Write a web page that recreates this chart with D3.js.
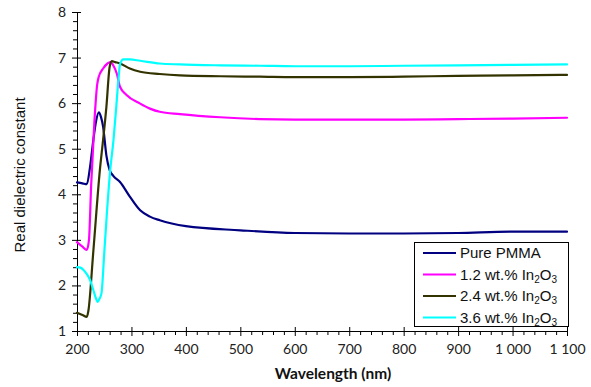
<!DOCTYPE html>
<html>
<head>
<meta charset="utf-8">
<script src="https://cdn.jsdelivr.net/npm/d3@7"></script>
<style>
  html, body { margin: 0; padding: 0; background: #fff; }
  svg { display: block; }
  .arial { font-family: Arial, "Liberation Sans", Arimo, sans-serif; }
  .calib { font-family: Lato, "Open Sans", sans-serif; }
</style>
</head>
<body>
<svg id="chart" width="591" height="387"></svg>
<script>
// ---- Data ----
const wlPMMA = [200, 210, 218, 224, 230, 235, 240, 244, 248, 254, 260, 267, 279, 297, 316, 334, 352, 400, 500, 600, 700, 800, 900, 1000, 1100];
const valPMMA = [4.26, 4.24, 4.22, 4.6, 5.19, 5.6, 5.80, 5.7, 5.48, 4.85, 4.53, 4.40, 4.27, 3.95, 3.65, 3.51, 3.43, 3.30, 3.21, 3.15, 3.14, 3.14, 3.15, 3.18, 3.18];

const wl12 = [200, 210, 218, 222, 226, 232, 237, 240, 248, 256, 261, 267, 273, 279, 291, 316, 334, 352, 389, 463, 536, 600, 700, 800, 900, 1000, 1100];
const val12 = [2.95, 2.85, 2.78, 3.0, 4.2, 5.6, 6.4, 6.58, 6.76, 6.87, 6.90, 6.82, 6.65, 6.36, 6.18, 5.99, 5.88, 5.81, 5.76, 5.69, 5.65, 5.64, 5.64, 5.64, 5.65, 5.66, 5.68];

const wl24 = [200, 210, 218, 221, 230, 242, 248, 254, 260, 264, 270, 279, 297, 316, 352, 389, 463, 536, 600, 700, 800, 900, 1000, 1100];
const val24 = [1.40, 1.35, 1.31, 1.45, 2.75, 4.53, 5.2, 5.92, 6.80, 6.92, 6.90, 6.87, 6.76, 6.69, 6.64, 6.61, 6.59, 6.58, 6.57, 6.57, 6.58, 6.60, 6.61, 6.62];

const wl36 = [200, 206, 212, 218, 224, 230, 236, 238, 241, 245, 250, 255, 261, 267, 272, 276, 279, 285, 297, 316, 352, 389, 463, 536, 600, 700, 800, 900, 1000, 1100];
const val36 = [2.40, 2.39, 2.34, 2.25, 2.12, 1.9, 1.68, 1.64, 1.70, 1.83, 2.7, 3.6, 4.53, 5.19, 5.9, 6.50, 6.85, 6.96, 6.96, 6.93, 6.87, 6.85, 6.83, 6.82, 6.81, 6.81, 6.82, 6.83, 6.84, 6.85];

const seriesNames = ["Pure PMMA", "1.2 wt.% In2O3", "2.4 wt.% In2O3", "3.6 wt.% In2O3"];
const seriesColors = ["#000080", "#FF00FF", "#333300", "#00FFFF"];

const xTicks = [200, 300, 400, 500, 600, 700, 800, 900, 1000, 1100];
const yTicks = [1, 2, 3, 4, 5, 6, 7, 8];

const xTitle = "Wavelength (nm)";
const yTitle = "Real dielectric constant";

// ---- Layout ----
const svg = d3.select("#chart");
const mLeft = 77, mRight = 567, mTop = 12, mBottom = 331;

const x = d3.scaleLinear().domain([200, 1100]).range([mLeft, mRight]);
const y = d3.scaleLinear().domain([1, 8]).range([mBottom, mTop]);

const axisColor = "#000";

// Minor ticks
const xMinor = d3.range(200, 1100.1, 20).filter(v => xTicks.indexOf(v) < 0);
const yMinor = d3.range(1, 8.01, 0.2).map(v => +v.toFixed(1)).filter(v => yTicks.indexOf(v) < 0);

const g = svg.append("g");

// Y axis
const yAxis = g.append("g").attr("transform", `translate(${mLeft},0)`)
  .call(d3.axisLeft(y).tickValues(yTicks).tickSize(5).tickPadding(6).tickFormat(d3.format("d")));
yAxis.attr("font-family", null).attr("font-size", null);
yAxis.select(".domain").attr("stroke", axisColor).attr("stroke-width", 1);
yAxis.selectAll(".tick line").attr("stroke", axisColor).attr("x2", 4).attr("x1", -5);
yAxis.selectAll(".tick text").attr("class", "calib").style("font-size", "14px").attr("fill", "#222");
g.append("g").attr("transform", `translate(${mLeft},0)`)
  .call(d3.axisLeft(y).tickValues(yMinor).tickSize(4).tickFormat(""))
  .call(s => s.select(".domain").remove())
  .selectAll(".tick line").attr("stroke", axisColor);

// X axis
const xAxis = g.append("g").attr("transform", `translate(0,${mBottom})`)
  .call(d3.axisBottom(x).tickValues(xTicks).tickSize(5).tickPadding(8)
    .tickFormat(d => d >= 1000 ? d3.format(",")(d).replace(/,/g, " ") : String(d)));
xAxis.attr("font-family", null).attr("font-size", null);
xAxis.select(".domain").attr("stroke", axisColor).attr("stroke-width", 1);
xAxis.selectAll(".tick line").attr("stroke", axisColor).attr("y1", -4).attr("y2", 5);
xAxis.selectAll(".tick text").attr("class", "calib").style("font-size", "14px").attr("fill", "#222");
g.append("g").attr("transform", `translate(0,${mBottom})`)
  .call(d3.axisBottom(x).tickValues(xMinor).tickSize(4).tickFormat(""))
  .call(s => s.select(".domain").remove())
  .selectAll(".tick line").attr("stroke", axisColor);

// Titles
svg.append("text").attr("class", "calib").attr("x", 333).attr("y", 379).attr("text-anchor", "middle")
  .attr("font-weight", "bold").style("font-size", "15.5px").attr("fill", "#111")
  .text(xTitle);
svg.append("text").attr("class", "arial").attr("transform", "translate(25,175) rotate(-90)").attr("text-anchor", "middle")
  .style("font-size", "15px").attr("fill", "#111")
  .text(yTitle);

// Lines
const series = [
  { wl: wlPMMA, v: valPMMA },
  { wl: wl12, v: val12 },
  { wl: wl24, v: val24 },
  { wl: wl36, v: val36 }
];
const line = d3.line().x(d => x(d[0])).y(d => y(d[1])).curve(d3.curveMonotoneX);
series.forEach((s, i) => {
  const pts = s.wl.map((w, k) => [w, s.v[k]]);
  svg.append("path").datum(pts).attr("d", line)
    .attr("fill", "none").attr("stroke", seriesColors[i]).attr("stroke-width", 2.2)
    .attr("stroke-linejoin", "round").attr("stroke-linecap", "round");
});

// Legend
const lg = svg.append("g");
lg.append("rect").attr("x", 414.5).attr("y", 242.5).attr("width", 154).attr("height", 84)
  .attr("fill", "#fff").attr("stroke", "#000").attr("stroke-width", 1);
const rowY = [253, 274.5, 296, 317.5];
seriesNames.forEach((name, i) => {
  lg.append("line").attr("x1", 423).attr("x2", 456).attr("y1", rowY[i]).attr("y2", rowY[i])
    .attr("stroke", seriesColors[i]).attr("stroke-width", 2.2);
  const t = lg.append("text").attr("class", "arial").attr("x", 460).attr("y", rowY[i] + 5.3)
    .style("font-size", "15px").attr("fill", "#111");
  const m = name.match(/^(.*In)2O3$/);
  if (m) {
    t.append("tspan").text(m[1]);
    t.append("tspan").style("font-size", "10px").attr("dy", 3).text("2");
    t.append("tspan").attr("dy", -3).text("O");
    t.append("tspan").style("font-size", "10px").attr("dy", 3).text("3");
  } else {
    t.text(name);
  }
});
</script>
</body>
</html>
